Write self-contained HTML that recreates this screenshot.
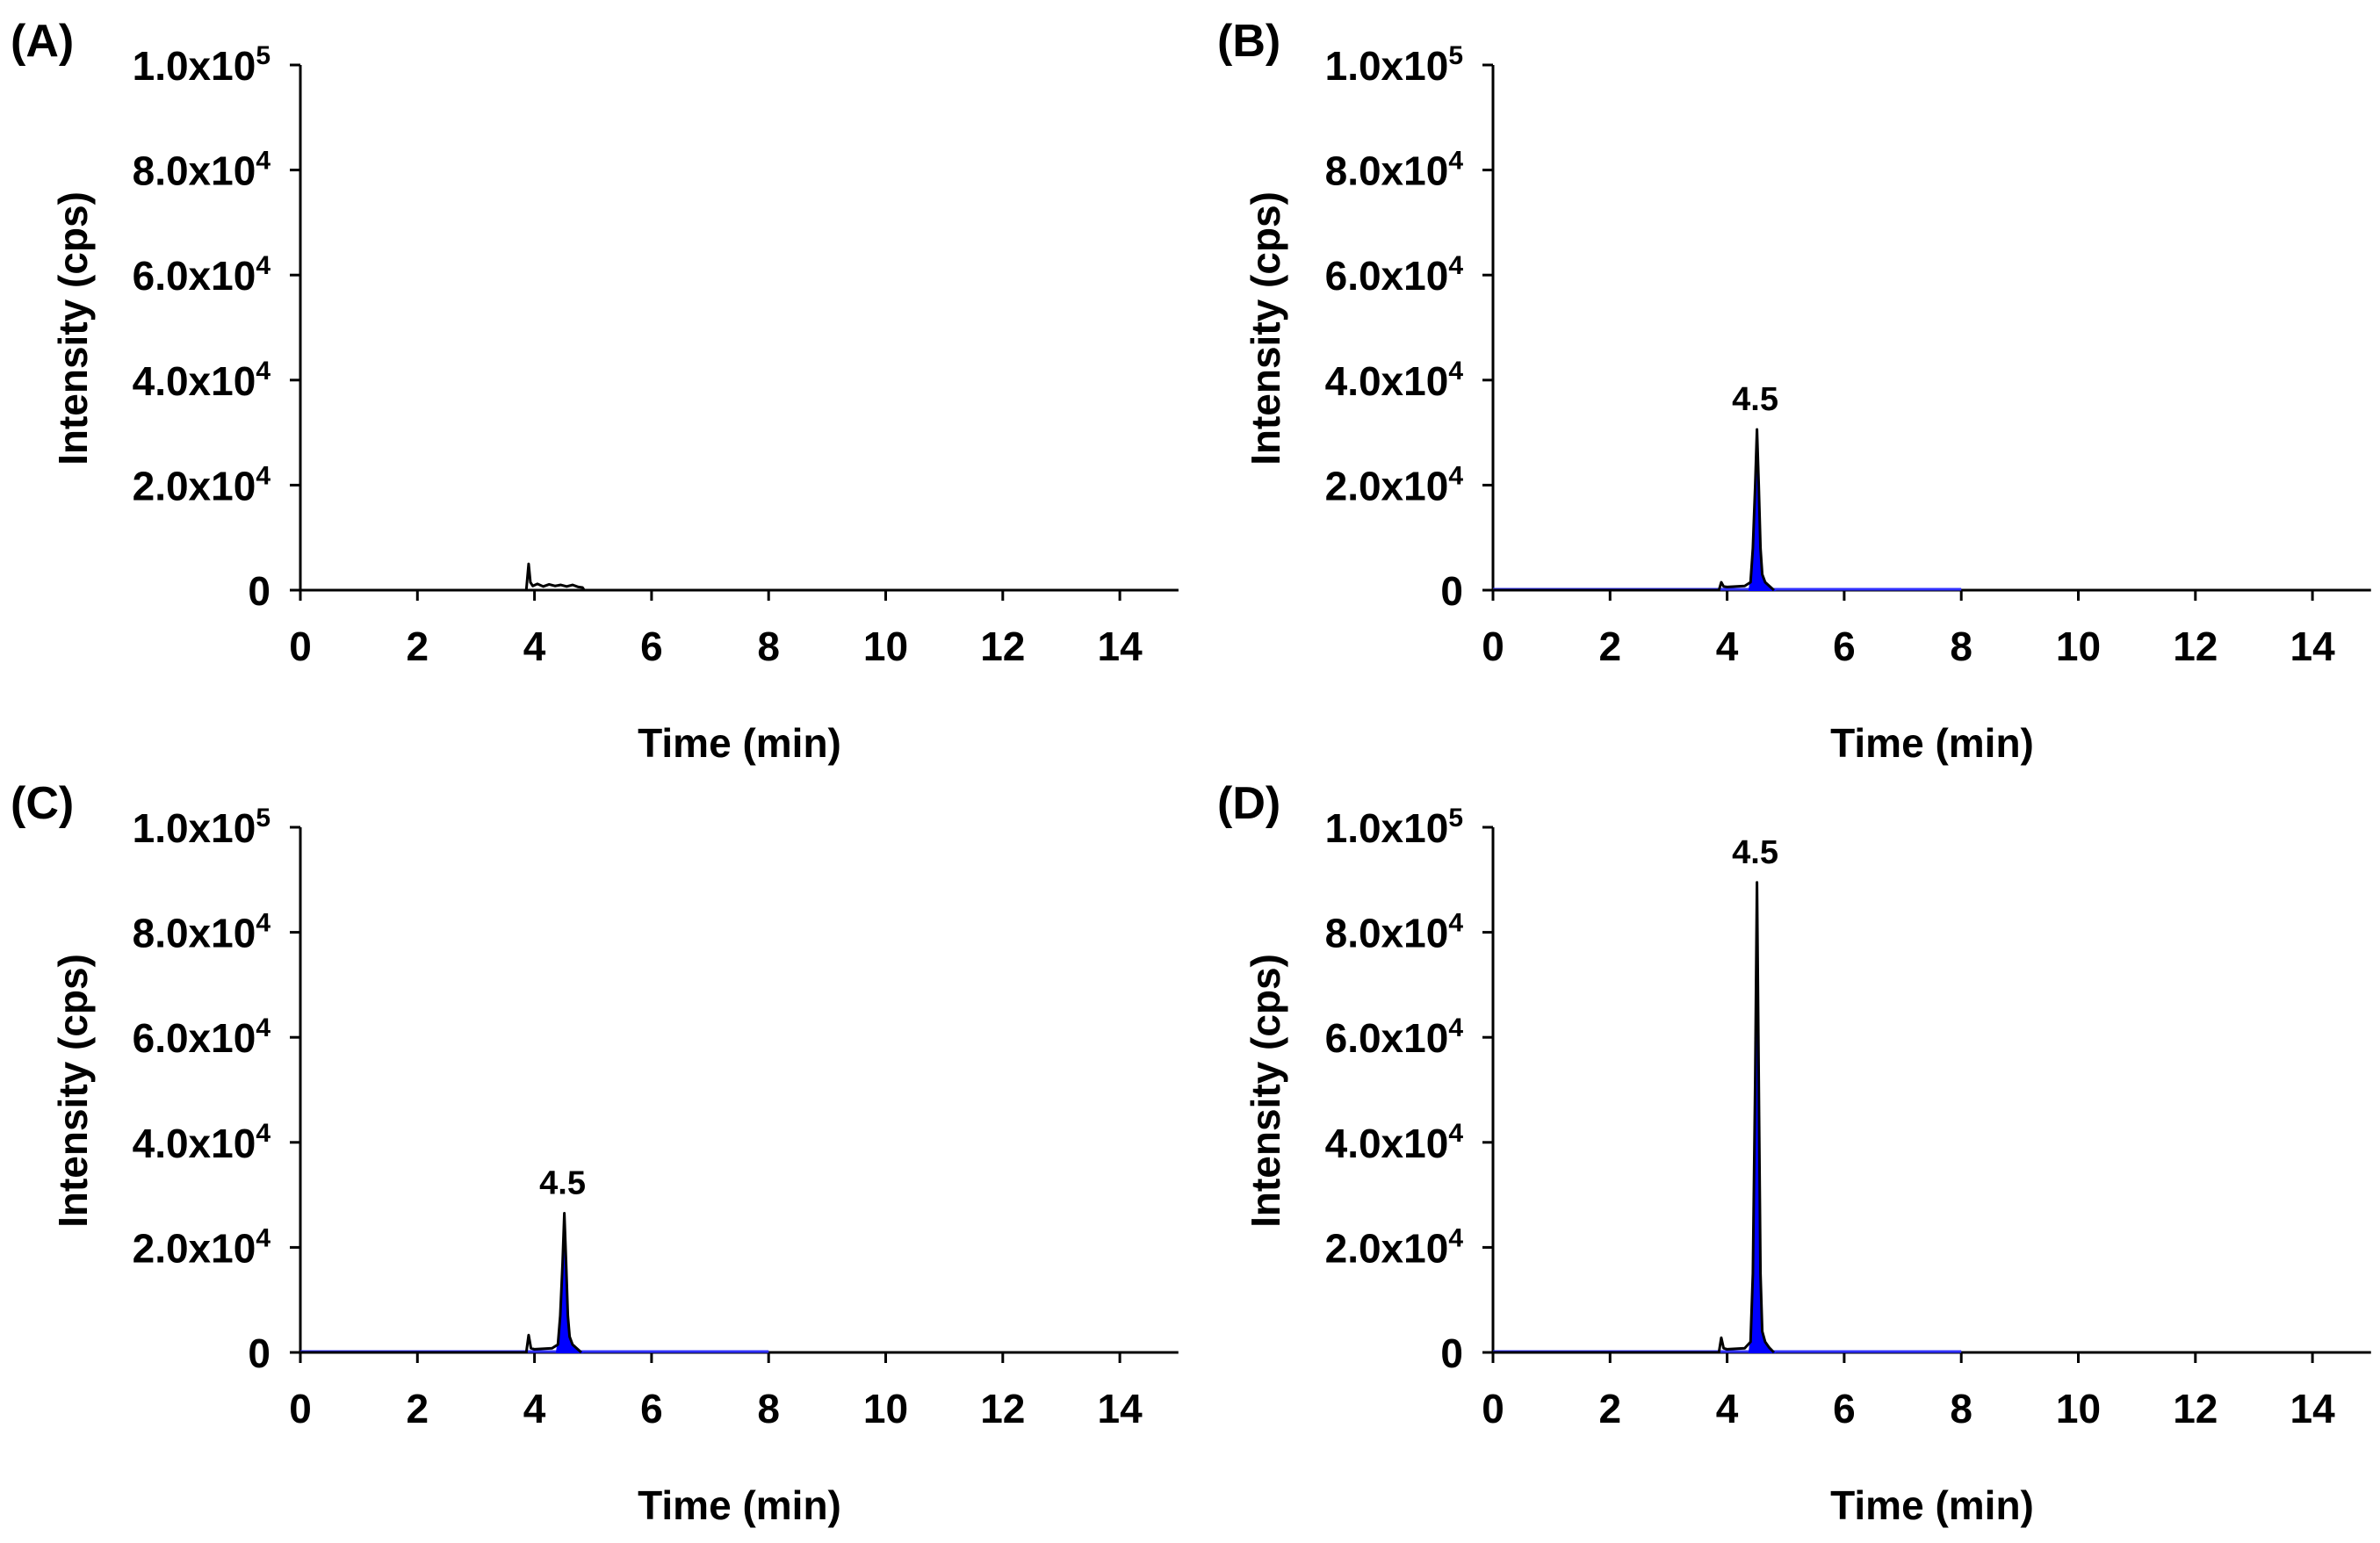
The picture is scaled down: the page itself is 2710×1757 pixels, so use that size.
<!DOCTYPE html>
<html><head><meta charset="utf-8"><style>
html,body{margin:0;padding:0;background:#fff;}
svg{display:block;}
text{font-family:"Liberation Sans",sans-serif;font-weight:bold;fill:#000;}
</style></head><body>
<svg id="chart" width="2710" height="1757" viewBox="0 0 2710 1757" xmlns="http://www.w3.org/2000/svg"></svg>
<script>
const xTicks = [0, 2, 4, 6, 8, 10, 12, 14];
const yTicks = [0, 20000, 40000, 60000, 80000, 100000];
const yTickMantissa = ["0", "2.0x10", "4.0x10", "6.0x10", "8.0x10", "1.0x10"];
const yTickExp = ["", "4", "4", "4", "4", "5"];
const panelLabels = ["(A)", "(B)", "(C)", "(D)"];
const peakLabels = ["", "4.5", "4.5", "4.5"];
const timesA = [0, 3.86, 3.9, 3.93, 3.97, 4.05, 4.15, 4.25, 4.35, 4.45, 4.55, 4.65, 4.75, 4.82, 4.85, 15];
const valuesA = [0, 0, 5000, 1500, 800, 1200, 700, 1100, 800, 1000, 700, 1000, 600, 500, 0, 0];
const timesB = [0, 3.86, 3.9, 3.94, 4.0, 4.3, 4.4, 4.44, 4.48, 4.51, 4.54, 4.57, 4.6, 4.65, 4.72, 4.8, 8, 15];
const valuesB = [0, 0, 1500, 700, 600, 800, 1500, 8000, 20000, 30600, 20000, 8000, 3000, 1500, 800, 0, 0, 0];
const timesC = [0, 3.86, 3.9, 3.94, 4.0, 4.3, 4.4, 4.44, 4.48, 4.51, 4.54, 4.57, 4.6, 4.65, 4.72, 4.8, 8, 15];
const valuesC = [0, 0, 3300, 800, 600, 800, 1500, 7000, 17000, 26500, 17000, 7000, 3000, 1500, 800, 0, 0, 0];
const timesD = [0, 3.86, 3.9, 3.94, 4.0, 4.3, 4.4, 4.44, 4.48, 4.51, 4.54, 4.57, 4.6, 4.65, 4.72, 4.8, 8, 15];
const valuesD = [0, 0, 2800, 800, 600, 800, 2000, 15000, 52000, 89500, 52000, 15000, 4000, 2000, 900, 0, 0, 0];
const peakTimes = [null, 4.51, 4.51, 4.51];
const peakValues = [null, 30600, 26500, 89500];

const NS = "http://www.w3.org/2000/svg";
const svg = document.getElementById("chart");
function mk(tag, attrs, parent) {
  const e = document.createElementNS(NS, tag);
  for (const k in attrs) e.setAttribute(k, attrs[k]);
  (parent || svg).appendChild(e);
  return e;
}
const panels = [
  {x0: 342, y0: 672, yTop: 74, times: timesA, values: valuesA, letterX: 12, letterY: 64},
  {x0: 1700, y0: 672, yTop: 74, times: timesB, values: valuesB, letterX: 1386, letterY: 64},
  {x0: 342, y0: 1540, yTop: 942, times: timesC, values: valuesC, letterX: 12, letterY: 932},
  {x0: 1700, y0: 1540, yTop: 942, times: timesD, values: valuesD, letterX: 1386, letterY: 932}
];
const pxPerMin = 66.65;
panels.forEach((p, i) => {
  const g = mk("g", {});
  
  
  const xs = t => p.x0 + t * pxPerMin;
  const ys = v => p.y0 - v / 100000 * (p.y0 - p.yTop);
  const lt = mk("text", {x: p.letterX, y: p.letterY, "font-size": 52}, g);
  lt.textContent = panelLabels[i];
  
  
  const ya = mk("line", {x1: p.x0, y1: p.yTop, x2: p.x0, y2: p.y0 + 12, stroke: "#000", "stroke-width": 3}, g);
  
  
  const xa = mk("line", {x1: p.x0 - 12, y1: p.y0, x2: xs(15), y2: p.y0, stroke: "#000", "stroke-width": 3}, g);
  
  
  yTicks.forEach((v, j) => {
    const y = ys(v);
    mk("line", {x1: p.x0 - 12, y1: y, x2: p.x0, y2: y, stroke: "#000", "stroke-width": 3}, g);
    const t = mk("text", {x: 308, y: y + 17, "font-size": 46, "text-anchor": "end"}, g);
    if (i % 2 === 1) t.setAttribute("x", 308 + 1358);
    
    
    t.textContent = yTickMantissa[j];
    if (yTickExp[j]) {
      const ts = mk("tspan", {dy: -18, "font-size": 30}, t);
      ts.textContent = yTickExp[j];
    }
  });
  xTicks.forEach(v => {
    const x = xs(v);
    mk("line", {x1: x, y1: p.y0, x2: x, y2: p.y0 + 12, stroke: "#000", "stroke-width": 3}, g);
    const t = mk("text", {x: x, y: p.y0 + 80, "font-size": 46, "text-anchor": "middle"}, g);
    
    
    t.textContent = v;
  });
  const xt = mk("text", {x: p.x0 + 500, y: p.y0 + 190, "font-size": 46, "text-anchor": "middle"}, g);
  
  
  xt.textContent = "Time (min)";
  const cy = (p.y0 + p.yTop) / 2 + 1;
  const yt = mk("text", {x: 0, y: 0, "font-size": 46, "text-anchor": "middle", transform: `translate(${p.x0 - 243},${cy}) rotate(-90)`}, g);
  
  
  yt.textContent = "Intensity (cps)";
  if (i > 0) {
    const bl = mk("line", {x1: xs(0), y1: p.y0 - 1, x2: xs(8), y2: p.y0 - 1, stroke: "#3030ff", "stroke-width": 3}, g);
    
    
    let pts = [];
    p.times.forEach((t, k) => { if (t >= 4.38 && t <= 4.8) pts.push(xs(t) + "," + ys(p.values[k])); });
    pts.push(xs(4.8) + "," + p.y0, xs(4.38) + "," + p.y0);
    const f = mk("polygon", {points: pts.join(" "), fill: "#0000ff", stroke: "#0000ff", "stroke-width": 2}, g);
    
    
  }
  let tp = [];
  p.times.forEach((t, k) => { if (i === 0 || t <= 4.85) tp.push(xs(t) + "," + ys(p.values[k])); });
  const tr = mk("polyline", {points: tp.join(" "), fill: "none", stroke: "#000", "stroke-width": 3, "stroke-linejoin": "round"}, g);
  
  
  if (peakLabels[i]) {
    const pl = mk("text", {x: xs(peakTimes[i]) - 2, y: ys(peakValues[i]) - 22, "font-size": 38, "text-anchor": "middle"}, g);
    
    
    pl.textContent = peakLabels[i];
  }
});
</script>
</body></html>
